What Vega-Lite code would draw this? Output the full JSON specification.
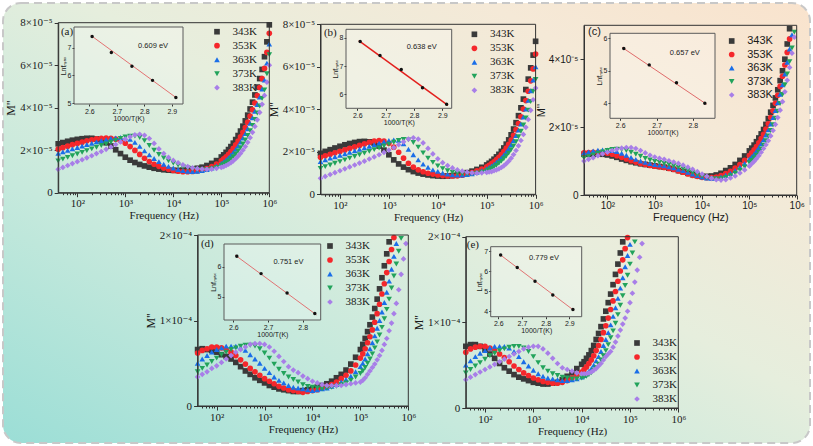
{
"$schema":"https://vega.github.io/schema/vega-lite/v6.json",
"width":807,"height":440,"padding":3,"autosize":{"type":"none"},"background":"#ffffff",
"config":{
"view":{"fill":{"gradient":"linear","x1":0,"y1":1,"x2":1,"y2":0,"stops":[{"offset":0,"color":"#9bded6"},{"offset":0.3,"color":"#c6e9dc"},{"offset":0.55,"color":"#e6eedd"},{"offset":0.8,"color":"#f5e9d7"},{"offset":1,"color":"#f9e3cd"}]},"stroke":"#c8c8c8","strokeWidth":2,"strokeDash":[8,5],"cornerRadius":18},
"axis":{"grid":false,"domainColor":"#333333","tickColor":"#333333","labelColor":"#1a1a1a","titleColor":"#1a1a1a","titleFontWeight":"normal","labelFontWeight":"normal","labelFlush":false,"labelOverlap":false,"labelBound":false,"labelFont":"Liberation Serif, DejaVu Serif, serif","titleFont":"Liberation Serif, DejaVu Serif, serif","labelFontSize":11,"titleFontSize":11,"tickSize":4,"labelPadding":1,"titlePadding":1},
"legend":{"labelFont":"Liberation Serif, DejaVu Serif, serif","labelFontSize":11,"symbolSize":32,"rowPadding":2,"labelOffset":10,"padding":0,"labelColor":"#1a1a1a","symbolStrokeWidth":0}
},
"datasets":{
"ma":[
{"f":40,"343K":2.30,"353K":2.05,"363K":1.85,"373K":1.50,"383K":1.10},
{"f":50,"343K":2.36,"353K":2.12,"363K":1.92,"373K":1.58,"383K":1.19},
{"f":63,"343K":2.42,"353K":2.19,"363K":1.99,"373K":1.66,"383K":1.28},
{"f":79,"343K":2.47,"353K":2.26,"363K":2.06,"373K":1.74,"383K":1.37},
{"f":100,"343K":2.51,"353K":2.32,"363K":2.13,"373K":1.82,"383K":1.46},
{"f":126,"343K":2.54,"353K":2.38,"363K":2.20,"373K":1.90,"383K":1.55},
{"f":158,"343K":2.56,"353K":2.44,"363K":2.27,"373K":1.98,"383K":1.64},
{"f":200,"343K":2.56,"353K":2.49,"363K":2.33,"373K":2.06,"383K":1.74},
{"f":251,"343K":2.53,"353K":2.53,"363K":2.39,"373K":2.14,"383K":1.84},
{"f":316,"343K":2.46,"353K":2.56,"363K":2.45,"373K":2.22,"383K":1.94},
{"f":398,"343K":2.35,"353K":2.57,"363K":2.50,"373K":2.30,"383K":2.04},
{"f":501,"343K":2.20,"353K":2.56,"363K":2.55,"373K":2.38,"383K":2.15},
{"f":631,"343K":2.02,"353K":2.52,"363K":2.58,"373K":2.46,"383K":2.27},
{"f":794,"343K":1.84,"353K":2.45,"363K":2.60,"373K":2.55,"383K":2.39},
{"f":1000,"343K":1.67,"353K":2.33,"363K":2.58,"373K":2.62,"383K":2.52},
{"f":1259,"343K":1.53,"353K":2.17,"363K":2.51,"373K":2.66,"383K":2.63},
{"f":1585,"343K":1.42,"353K":1.99,"363K":2.37,"373K":2.66,"383K":2.72},
{"f":1995,"343K":1.33,"353K":1.80,"363K":2.18,"373K":2.60,"383K":2.75},
{"f":2512,"343K":1.26,"353K":1.62,"363K":1.97,"373K":2.45,"383K":2.70},
{"f":3162,"343K":1.20,"353K":1.47,"363K":1.78,"373K":2.22,"383K":2.55},
{"f":3981,"343K":1.15,"353K":1.34,"363K":1.61,"373K":2.00,"383K":2.32},
{"f":5012,"343K":1.11,"353K":1.24,"363K":1.46,"373K":1.80,"383K":2.06},
{"f":6310,"343K":1.08,"353K":1.16,"363K":1.34,"373K":1.64,"383K":1.84},
{"f":7943,"343K":1.06,"353K":1.10,"363K":1.24,"373K":1.50,"383K":1.66},
{"f":10000,"343K":1.05,"353K":1.05,"363K":1.16,"373K":1.39,"383K":1.52},
{"f":12589,"343K":1.05,"353K":1.01,"363K":1.09,"373K":1.30,"383K":1.41},
{"f":15849,"343K":1.06,"353K":0.99,"363K":1.04,"373K":1.22,"383K":1.31},
{"f":19953,"343K":1.08,"353K":0.99,"363K":1.01,"373K":1.16,"383K":1.23},
{"f":25119,"343K":1.11,"353K":1.00,"363K":1.00,"373K":1.11,"383K":1.17},
{"f":31623,"343K":1.15,"353K":1.03,"363K":1.01,"373K":1.08,"383K":1.13},
{"f":39811,"343K":1.20,"353K":1.08,"363K":1.04,"373K":1.07,"383K":1.11},
{"f":50119,"343K":1.28,"353K":1.14,"363K":1.09,"373K":1.08,"383K":1.10},
{"f":63096,"343K":1.38,"353K":1.23,"363K":1.16,"373K":1.12,"383K":1.11},
{"f":79433,"343K":1.51,"353K":1.35,"363K":1.26,"373K":1.19,"383K":1.14},
{"f":100000,"343K":1.68,"353K":1.50,"363K":1.38,"373K":1.28,"383K":1.19},
{"f":112202,"343K":1.78,"353K":1.59,"363K":1.46,"373K":1.34,"383K":1.23},
{"f":125893,"343K":1.90,"353K":1.69,"363K":1.55,"373K":1.41,"383K":1.28},
{"f":141254,"343K":2.03,"353K":1.81,"363K":1.65,"373K":1.49,"383K":1.34},
{"f":158489,"343K":2.17,"353K":1.94,"363K":1.77,"373K":1.59,"383K":1.41},
{"f":177828,"343K":2.33,"353K":2.09,"363K":1.90,"373K":1.70,"383K":1.50},
{"f":199526,"343K":2.50,"353K":2.25,"363K":2.04,"373K":1.82,"383K":1.60},
{"f":223872,"343K":2.69,"353K":2.43,"363K":2.20,"373K":1.96,"383K":1.72},
{"f":251189,"343K":2.90,"353K":2.63,"363K":2.38,"373K":2.12,"383K":1.85},
{"f":281838,"343K":3.13,"353K":2.84,"363K":2.57,"373K":2.29,"383K":2.00},
{"f":316228,"343K":3.38,"353K":3.07,"363K":2.78,"373K":2.48,"383K":2.17},
{"f":354813,"343K":3.65,"353K":3.32,"363K":3.01,"373K":2.69,"383K":2.37},
{"f":398107,"343K":3.94,"353K":3.60,"363K":3.26,"373K":2.92,"383K":2.59},
{"f":446684,"343K":4.26,"353K":3.90,"363K":3.53,"373K":3.17,"383K":2.84},
{"f":501187,"343K":4.60,"353K":4.22,"363K":3.83,"373K":3.45,"383K":3.12},
{"f":562341,"343K":4.97,"353K":4.57,"363K":4.15,"373K":3.75,"383K":3.43},
{"f":630957,"343K":5.37,"353K":4.95,"363K":4.50,"373K":4.08,"383K":3.78},
{"f":707946,"343K":5.80,"353K":5.37,"363K":4.88,"373K":4.44,"383K":4.16},
{"f":794328,"343K":6.40,"353K":5.85,"363K":5.30,"373K":4.84,"383K":4.58},
{"f":891251,"343K":7.10,"353K":6.60,"363K":6.10,"373K":5.60,"383K":5.20},
{"f":1000000,"343K":7.90,"353K":7.50,"363K":7.00,"373K":6.50,"383K":6.00}
],
"mb":[
{"f":40,"343K":1.93,"353K":1.74,"363K":1.54,"373K":1.22,"383K":0.75},
{"f":50,"343K":2.02,"353K":1.81,"363K":1.62,"373K":1.30,"383K":0.84},
{"f":63,"343K":2.10,"353K":1.88,"363K":1.70,"373K":1.38,"383K":0.93},
{"f":79,"343K":2.18,"353K":1.95,"363K":1.77,"373K":1.46,"383K":1.02},
{"f":100,"343K":2.26,"353K":2.02,"363K":1.84,"373K":1.54,"383K":1.11},
{"f":126,"343K":2.33,"353K":2.09,"363K":1.91,"373K":1.62,"383K":1.20},
{"f":158,"343K":2.39,"353K":2.16,"363K":1.98,"373K":1.70,"383K":1.29},
{"f":200,"343K":2.44,"353K":2.23,"363K":2.05,"373K":1.78,"383K":1.38},
{"f":251,"343K":2.48,"353K":2.30,"363K":2.12,"373K":1.86,"383K":1.47},
{"f":316,"343K":2.49,"353K":2.37,"363K":2.19,"373K":1.94,"383K":1.56},
{"f":398,"343K":2.47,"353K":2.44,"363K":2.26,"373K":2.02,"383K":1.66},
{"f":501,"343K":2.40,"353K":2.50,"363K":2.33,"373K":2.10,"383K":1.76},
{"f":631,"343K":2.27,"353K":2.53,"363K":2.40,"373K":2.18,"383K":1.86},
{"f":794,"343K":2.08,"353K":2.50,"363K":2.47,"373K":2.27,"383K":1.97},
{"f":1000,"343K":1.86,"353K":2.40,"363K":2.53,"373K":2.36,"383K":2.08},
{"f":1259,"343K":1.62,"353K":2.22,"363K":2.56,"373K":2.45,"383K":2.20},
{"f":1585,"343K":1.43,"353K":1.98,"363K":2.54,"373K":2.53,"383K":2.33},
{"f":1995,"343K":1.28,"353K":1.70,"363K":2.38,"373K":2.58,"383K":2.47},
{"f":2512,"343K":1.16,"353K":1.46,"363K":2.12,"373K":2.56,"383K":2.60},
{"f":3162,"343K":1.07,"353K":1.28,"363K":1.86,"373K":2.44,"383K":2.66},
{"f":3981,"343K":1.00,"353K":1.15,"363K":1.62,"373K":2.22,"383K":2.60},
{"f":5012,"343K":0.95,"353K":1.06,"363K":1.42,"373K":1.95,"383K":2.42},
{"f":6310,"343K":0.91,"353K":0.99,"363K":1.27,"373K":1.70,"383K":2.16},
{"f":7943,"343K":0.88,"353K":0.95,"363K":1.15,"373K":1.50,"383K":1.90},
{"f":10000,"343K":0.86,"353K":0.91,"363K":1.08,"373K":1.34,"383K":1.67},
{"f":12589,"343K":0.85,"353K":0.88,"363K":1.00,"373K":1.21,"383K":1.49},
{"f":15849,"343K":0.86,"353K":0.86,"363K":0.95,"373K":1.11,"383K":1.35},
{"f":19953,"343K":0.88,"353K":0.86,"363K":0.92,"373K":1.04,"383K":1.24},
{"f":25119,"343K":0.91,"353K":0.87,"363K":0.90,"373K":0.99,"383K":1.15},
{"f":31623,"343K":0.96,"353K":0.90,"363K":0.91,"373K":0.96,"383K":1.09},
{"f":39811,"343K":1.02,"353K":0.95,"363K":0.93,"373K":0.95,"383K":1.04},
{"f":50119,"343K":1.09,"353K":1.02,"363K":0.97,"373K":0.96,"383K":1.01},
{"f":63096,"343K":1.17,"353K":1.10,"363K":1.03,"373K":0.99,"383K":1.00},
{"f":79433,"343K":1.27,"353K":1.19,"363K":1.11,"373K":1.04,"383K":1.01},
{"f":100000,"343K":1.38,"353K":1.29,"363K":1.20,"373K":1.10,"383K":1.03},
{"f":112202,"343K":1.46,"353K":1.36,"363K":1.27,"373K":1.16,"383K":1.05},
{"f":125893,"343K":1.55,"353K":1.44,"363K":1.34,"373K":1.22,"383K":1.07},
{"f":141254,"343K":1.65,"353K":1.53,"363K":1.42,"373K":1.29,"383K":1.11},
{"f":158489,"343K":1.76,"353K":1.63,"363K":1.51,"373K":1.37,"383K":1.15},
{"f":177828,"343K":1.88,"353K":1.74,"363K":1.61,"373K":1.46,"383K":1.20},
{"f":199526,"343K":2.02,"353K":1.87,"363K":1.72,"373K":1.56,"383K":1.26},
{"f":223872,"343K":2.18,"353K":2.01,"363K":1.85,"373K":1.67,"383K":1.34},
{"f":251189,"343K":2.36,"353K":2.17,"363K":1.99,"373K":1.80,"383K":1.44},
{"f":281838,"343K":2.56,"353K":2.35,"363K":2.15,"373K":1.94,"383K":1.56},
{"f":316228,"343K":2.80,"353K":2.55,"363K":2.33,"373K":2.10,"383K":1.70},
{"f":354813,"343K":3.07,"353K":2.78,"363K":2.53,"373K":2.28,"383K":1.87},
{"f":398107,"343K":3.37,"353K":3.04,"363K":2.76,"373K":2.48,"383K":2.06},
{"f":446684,"343K":3.70,"353K":3.33,"363K":3.02,"373K":2.71,"383K":2.28},
{"f":501187,"343K":4.07,"353K":3.65,"363K":3.31,"373K":2.97,"383K":2.53},
{"f":562341,"343K":4.48,"353K":4.01,"363K":3.64,"373K":3.26,"383K":2.82},
{"f":630957,"343K":4.93,"353K":4.41,"363K":4.01,"373K":3.59,"383K":3.15},
{"f":707946,"343K":5.42,"353K":4.85,"363K":4.42,"373K":3.96,"383K":3.52},
{"f":794328,"343K":5.95,"353K":5.34,"363K":4.87,"373K":4.37,"383K":3.95},
{"f":891251,"343K":6.55,"353K":5.90,"363K":5.38,"373K":4.85,"383K":4.45},
{"f":1000000,"343K":7.20,"353K":6.60,"363K":6.00,"373K":5.40,"383K":5.00}
],
"mc":[
{"f":32,"343K":1.20,"353K":1.24,"363K":1.25,"373K":1.09,"383K":1.00},
{"f":40,"343K":1.20,"353K":1.25,"363K":1.27,"373K":1.13,"383K":1.05},
{"f":50,"343K":1.21,"353K":1.26,"363K":1.30,"373K":1.18,"383K":1.10},
{"f":63,"343K":1.21,"353K":1.26,"363K":1.32,"373K":1.23,"383K":1.16},
{"f":79,"343K":1.20,"353K":1.25,"363K":1.33,"373K":1.27,"383K":1.21},
{"f":100,"343K":1.18,"353K":1.23,"363K":1.33,"373K":1.31,"383K":1.26},
{"f":126,"343K":1.15,"353K":1.20,"363K":1.31,"373K":1.34,"383K":1.31},
{"f":158,"343K":1.11,"353K":1.16,"363K":1.28,"373K":1.35,"383K":1.35},
{"f":200,"343K":1.06,"353K":1.11,"363K":1.23,"373K":1.34,"383K":1.38},
{"f":251,"343K":1.02,"353K":1.06,"363K":1.17,"373K":1.31,"383K":1.40},
{"f":316,"343K":0.98,"353K":1.01,"363K":1.11,"373K":1.26,"383K":1.40},
{"f":398,"343K":0.95,"353K":0.97,"363K":1.05,"373K":1.20,"383K":1.37},
{"f":501,"343K":0.92,"353K":0.93,"363K":1.00,"373K":1.14,"383K":1.31},
{"f":631,"343K":0.90,"353K":0.90,"363K":0.96,"373K":1.08,"383K":1.24},
{"f":794,"343K":0.88,"353K":0.87,"363K":0.93,"373K":1.03,"383K":1.17},
{"f":1000,"343K":0.86,"353K":0.85,"363K":0.90,"373K":0.99,"383K":1.12},
{"f":1259,"343K":0.84,"353K":0.83,"363K":0.88,"373K":0.96,"383K":1.08},
{"f":1585,"343K":0.82,"353K":0.81,"363K":0.86,"373K":0.93,"383K":1.05},
{"f":1995,"343K":0.79,"353K":0.78,"363K":0.83,"373K":0.90,"383K":1.01},
{"f":2512,"343K":0.76,"353K":0.75,"363K":0.80,"373K":0.86,"383K":0.97},
{"f":3162,"343K":0.72,"353K":0.71,"363K":0.76,"373K":0.82,"383K":0.93},
{"f":3981,"343K":0.68,"353K":0.67,"363K":0.72,"373K":0.77,"383K":0.88},
{"f":5012,"343K":0.64,"353K":0.62,"363K":0.67,"373K":0.72,"383K":0.82},
{"f":6310,"343K":0.60,"353K":0.58,"363K":0.62,"373K":0.66,"383K":0.76},
{"f":7943,"343K":0.57,"353K":0.55,"363K":0.57,"373K":0.60,"383K":0.69},
{"f":10000,"343K":0.55,"353K":0.52,"363K":0.53,"373K":0.55,"383K":0.62},
{"f":12589,"343K":0.55,"353K":0.51,"363K":0.50,"373K":0.51,"383K":0.55},
{"f":15849,"343K":0.56,"353K":0.51,"363K":0.49,"373K":0.48,"383K":0.49},
{"f":19953,"343K":0.59,"353K":0.53,"363K":0.50,"373K":0.47,"383K":0.45},
{"f":25119,"343K":0.64,"353K":0.57,"363K":0.53,"373K":0.48,"383K":0.44},
{"f":31623,"343K":0.72,"353K":0.63,"363K":0.58,"373K":0.52,"383K":0.45},
{"f":39811,"343K":0.80,"353K":0.70,"363K":0.64,"373K":0.57,"383K":0.50},
{"f":50119,"343K":0.90,"353K":0.79,"363K":0.72,"373K":0.64,"383K":0.56},
{"f":63096,"343K":1.02,"353K":0.90,"363K":0.82,"373K":0.73,"383K":0.65},
{"f":79433,"343K":1.15,"353K":1.02,"363K":0.93,"373K":0.83,"383K":0.74},
{"f":100000,"343K":1.30,"353K":1.16,"363K":1.06,"373K":0.95,"383K":0.85},
{"f":112202,"343K":1.38,"353K":1.24,"363K":1.13,"373K":1.02,"383K":0.92},
{"f":125893,"343K":1.47,"353K":1.33,"363K":1.21,"373K":1.09,"383K":0.99},
{"f":141254,"343K":1.57,"353K":1.43,"363K":1.30,"373K":1.17,"383K":1.07},
{"f":158489,"343K":1.68,"353K":1.54,"363K":1.40,"373K":1.26,"383K":1.16},
{"f":177828,"343K":1.80,"353K":1.66,"363K":1.51,"373K":1.36,"383K":1.26},
{"f":199526,"343K":1.93,"353K":1.79,"363K":1.63,"373K":1.47,"383K":1.37},
{"f":223872,"343K":2.08,"353K":1.94,"363K":1.77,"373K":1.60,"383K":1.48},
{"f":251189,"343K":2.25,"353K":2.10,"363K":1.92,"373K":1.74,"383K":1.60},
{"f":281838,"343K":2.44,"353K":2.28,"363K":2.09,"373K":1.90,"383K":1.74},
{"f":316228,"343K":2.64,"353K":2.48,"363K":2.28,"373K":2.07,"383K":1.90},
{"f":354813,"343K":2.86,"353K":2.70,"363K":2.49,"373K":2.26,"383K":2.08},
{"f":398107,"343K":3.10,"353K":2.94,"363K":2.72,"373K":2.47,"383K":2.28},
{"f":446684,"343K":3.37,"353K":3.20,"363K":2.97,"373K":2.70,"383K":2.50},
{"f":501187,"343K":3.66,"353K":3.50,"363K":3.25,"373K":2.96,"383K":2.75},
{"f":562341,"343K":4.00,"353K":3.83,"363K":3.56,"373K":3.25,"383K":3.04},
{"f":630957,"343K":4.45,"353K":4.20,"363K":3.91,"373K":3.57,"383K":3.38},
{"f":707946,"343K":4.90,"353K":4.60,"363K":4.30,"373K":3.93,"383K":3.76},
{"f":794328,"363K":4.72,"373K":4.33,"383K":4.18},
{"f":891251,"373K":4.80,"383K":4.65}
],
"md":[
{"f":40,"343K":0.66,"353K":0.62,"363K":0.50,"373K":0.40,"383K":0.34},
{"f":50,"343K":0.67,"353K":0.65,"363K":0.55,"373K":0.44,"383K":0.37},
{"f":63,"343K":0.66,"353K":0.67,"363K":0.59,"373K":0.48,"383K":0.40},
{"f":79,"343K":0.65,"353K":0.69,"363K":0.63,"373K":0.52,"383K":0.44},
{"f":100,"343K":0.63,"353K":0.69,"363K":0.66,"373K":0.56,"383K":0.47},
{"f":126,"343K":0.60,"353K":0.68,"363K":0.68,"373K":0.60,"383K":0.51},
{"f":158,"343K":0.58,"353K":0.66,"363K":0.70,"373K":0.63,"383K":0.55},
{"f":200,"343K":0.55,"353K":0.63,"363K":0.70,"373K":0.66,"383K":0.59},
{"f":251,"343K":0.51,"353K":0.59,"363K":0.70,"373K":0.68,"383K":0.63},
{"f":316,"343K":0.46,"353K":0.54,"363K":0.68,"373K":0.70,"383K":0.66},
{"f":398,"343K":0.41,"353K":0.49,"363K":0.65,"373K":0.71,"383K":0.69},
{"f":501,"343K":0.37,"353K":0.44,"363K":0.60,"373K":0.71,"383K":0.72},
{"f":631,"343K":0.33,"353K":0.40,"363K":0.55,"373K":0.70,"383K":0.73},
{"f":794,"343K":0.30,"353K":0.36,"363K":0.50,"373K":0.67,"383K":0.73},
{"f":1000,"343K":0.27,"353K":0.32,"363K":0.44,"373K":0.62,"383K":0.72},
{"f":1259,"343K":0.24,"353K":0.29,"363K":0.39,"373K":0.56,"383K":0.69},
{"f":1585,"343K":0.22,"353K":0.26,"363K":0.34,"373K":0.49,"383K":0.64},
{"f":1995,"343K":0.20,"353K":0.23,"363K":0.30,"373K":0.43,"383K":0.58},
{"f":2512,"343K":0.19,"353K":0.21,"363K":0.27,"373K":0.38,"383K":0.52},
{"f":3162,"343K":0.18,"353K":0.19,"363K":0.24,"373K":0.34,"383K":0.46},
{"f":3981,"343K":0.17,"353K":0.18,"363K":0.22,"373K":0.31,"383K":0.42},
{"f":5012,"343K":0.17,"353K":0.17,"363K":0.21,"373K":0.28,"383K":0.39},
{"f":6310,"343K":0.18,"353K":0.16,"363K":0.20,"373K":0.25,"383K":0.35},
{"f":7943,"343K":0.19,"353K":0.17,"363K":0.19,"373K":0.23,"383K":0.32},
{"f":10000,"343K":0.20,"353K":0.18,"363K":0.18,"373K":0.22,"383K":0.29},
{"f":12589,"343K":0.22,"353K":0.19,"363K":0.19,"373K":0.21,"383K":0.27},
{"f":15849,"343K":0.24,"353K":0.21,"363K":0.20,"373K":0.20,"383K":0.25},
{"f":19953,"343K":0.26,"353K":0.23,"363K":0.21,"373K":0.21,"383K":0.24},
{"f":25119,"343K":0.29,"353K":0.25,"363K":0.23,"373K":0.22,"383K":0.24},
{"f":31623,"343K":0.33,"353K":0.28,"363K":0.25,"373K":0.23,"383K":0.24},
{"f":39811,"343K":0.37,"353K":0.32,"363K":0.28,"373K":0.25,"383K":0.24},
{"f":50119,"343K":0.42,"353K":0.36,"363K":0.31,"373K":0.27,"383K":0.25},
{"f":63096,"343K":0.49,"353K":0.41,"363K":0.35,"373K":0.30,"383K":0.26},
{"f":79433,"343K":0.57,"353K":0.48,"363K":0.40,"373K":0.34,"383K":0.27},
{"f":100000,"343K":0.66,"353K":0.56,"363K":0.46,"373K":0.38,"383K":0.28},
{"f":112202,"343K":0.72,"353K":0.61,"363K":0.50,"373K":0.41,"383K":0.30},
{"f":125893,"343K":0.79,"353K":0.67,"363K":0.55,"373K":0.45,"383K":0.33},
{"f":141254,"343K":0.87,"353K":0.74,"363K":0.61,"373K":0.50,"383K":0.37},
{"f":158489,"343K":0.95,"353K":0.81,"363K":0.67,"373K":0.55,"383K":0.41},
{"f":177828,"343K":1.04,"353K":0.89,"363K":0.74,"373K":0.61,"383K":0.45},
{"f":199526,"343K":1.14,"353K":0.98,"363K":0.82,"373K":0.68,"383K":0.49},
{"f":223872,"343K":1.25,"353K":1.08,"363K":0.91,"373K":0.75,"383K":0.54},
{"f":251189,"343K":1.37,"353K":1.19,"363K":1.00,"373K":0.83,"383K":0.59},
{"f":281838,"343K":1.50,"353K":1.31,"363K":1.10,"373K":0.92,"383K":0.65},
{"f":316228,"343K":1.64,"353K":1.43,"363K":1.21,"373K":1.02,"383K":0.72},
{"f":354813,"343K":1.78,"353K":1.56,"363K":1.33,"373K":1.13,"383K":0.79},
{"f":398107,"343K":1.92,"353K":1.69,"363K":1.46,"373K":1.25,"383K":0.88},
{"f":446684,"353K":1.83,"363K":1.60,"373K":1.38,"383K":0.97},
{"f":501187,"353K":1.97,"363K":1.75,"373K":1.52,"383K":1.08},
{"f":562341,"363K":1.90,"373K":1.66,"383K":1.20},
{"f":630957,"373K":1.81,"383K":1.36},
{"f":707946,"373K":1.96,"383K":1.54},
{"f":794328,"383K":1.72},
{"f":891251,"383K":1.90}
],
"me":[
{"f":40,"343K":0.72,"353K":0.65,"363K":0.50,"373K":0.41,"383K":0.33},
{"f":50,"343K":0.74,"353K":0.69,"363K":0.55,"373K":0.45,"383K":0.36},
{"f":63,"343K":0.74,"353K":0.71,"363K":0.60,"373K":0.49,"383K":0.39},
{"f":79,"343K":0.72,"353K":0.72,"363K":0.64,"373K":0.53,"383K":0.42},
{"f":100,"343K":0.68,"353K":0.72,"363K":0.67,"373K":0.57,"383K":0.45},
{"f":126,"343K":0.63,"353K":0.70,"363K":0.70,"373K":0.61,"383K":0.48},
{"f":158,"343K":0.58,"353K":0.67,"363K":0.72,"373K":0.64,"383K":0.51},
{"f":200,"343K":0.52,"353K":0.63,"363K":0.72,"373K":0.67,"383K":0.54},
{"f":251,"343K":0.47,"353K":0.59,"363K":0.72,"373K":0.69,"383K":0.57},
{"f":316,"343K":0.43,"353K":0.54,"363K":0.70,"373K":0.71,"383K":0.60},
{"f":398,"343K":0.39,"353K":0.49,"363K":0.66,"373K":0.72,"383K":0.63},
{"f":501,"343K":0.36,"353K":0.45,"363K":0.60,"373K":0.72,"383K":0.66},
{"f":631,"343K":0.34,"353K":0.41,"363K":0.54,"373K":0.70,"383K":0.69},
{"f":794,"343K":0.32,"353K":0.38,"363K":0.49,"373K":0.66,"383K":0.71},
{"f":1000,"343K":0.30,"353K":0.35,"363K":0.44,"373K":0.60,"383K":0.72},
{"f":1259,"343K":0.29,"353K":0.33,"363K":0.40,"373K":0.53,"383K":0.72},
{"f":1585,"343K":0.28,"353K":0.31,"363K":0.37,"373K":0.47,"383K":0.69},
{"f":1995,"343K":0.28,"353K":0.30,"363K":0.35,"373K":0.43,"383K":0.64},
{"f":2512,"343K":0.29,"353K":0.29,"363K":0.34,"373K":0.40,"383K":0.58},
{"f":3162,"343K":0.30,"353K":0.29,"363K":0.33,"373K":0.38,"383K":0.52},
{"f":3981,"343K":0.33,"353K":0.30,"363K":0.32,"373K":0.36,"383K":0.47},
{"f":5012,"343K":0.37,"353K":0.32,"363K":0.32,"373K":0.35,"383K":0.45},
{"f":6310,"343K":0.41,"353K":0.35,"363K":0.33,"373K":0.34,"383K":0.43},
{"f":7943,"343K":0.46,"353K":0.38,"363K":0.34,"373K":0.34,"383K":0.41},
{"f":10000,"343K":0.51,"353K":0.42,"363K":0.36,"373K":0.35,"383K":0.40},
{"f":11220,"343K":0.54,"353K":0.45,"363K":0.38,"373K":0.36,"383K":0.40},
{"f":12589,"343K":0.58,"353K":0.48,"363K":0.40,"373K":0.37,"383K":0.40},
{"f":14125,"343K":0.62,"353K":0.52,"363K":0.43,"373K":0.39,"383K":0.41},
{"f":15849,"343K":0.67,"353K":0.56,"363K":0.46,"373K":0.41,"383K":0.42},
{"f":17783,"343K":0.73,"353K":0.61,"363K":0.50,"373K":0.44,"383K":0.44},
{"f":19953,"343K":0.80,"353K":0.67,"363K":0.55,"373K":0.47,"383K":0.46},
{"f":22387,"343K":0.87,"353K":0.73,"363K":0.60,"373K":0.51,"383K":0.49},
{"f":25119,"343K":0.95,"353K":0.80,"363K":0.66,"373K":0.56,"383K":0.52},
{"f":28184,"343K":1.04,"353K":0.88,"363K":0.73,"373K":0.61,"383K":0.56},
{"f":31623,"343K":1.13,"353K":0.96,"363K":0.80,"373K":0.67,"383K":0.60},
{"f":35481,"343K":1.23,"353K":1.05,"363K":0.88,"373K":0.74,"383K":0.63},
{"f":39811,"343K":1.33,"353K":1.15,"363K":0.97,"373K":0.82,"383K":0.66},
{"f":44668,"343K":1.44,"353K":1.25,"363K":1.07,"373K":0.90,"383K":0.71},
{"f":50119,"343K":1.56,"353K":1.36,"363K":1.17,"373K":0.99,"383K":0.77},
{"f":56234,"343K":1.68,"353K":1.48,"363K":1.28,"373K":1.09,"383K":0.84},
{"f":63096,"343K":1.81,"353K":1.60,"363K":1.40,"373K":1.20,"383K":0.91},
{"f":70795,"343K":1.94,"353K":1.73,"363K":1.52,"373K":1.31,"383K":0.98},
{"f":79433,"353K":1.86,"363K":1.65,"373K":1.43,"383K":1.05},
{"f":89125,"353K":1.99,"363K":1.78,"373K":1.55,"383K":1.13},
{"f":100000,"363K":1.91,"373K":1.68,"383K":1.23},
{"f":112202,"373K":1.81,"383K":1.34},
{"f":125893,"373K":1.94,"383K":1.47},
{"f":141254,"383K":1.61},
{"f":158489,"383K":1.76},
{"f":177828,"383K":1.92}
],
"ia":[{"x":2.61,"y":7.4},{"x":2.68,"y":6.82},{"x":2.755,"y":6.33},{"x":2.83,"y":5.82},{"x":2.915,"y":5.2}],
"la":[{"x":2.605,"y":7.44},{"x":2.92,"y":5.17}],
"ib":[{"x":2.61,"y":7.87},{"x":2.68,"y":7.37},{"x":2.755,"y":6.88},{"x":2.83,"y":6.23},{"x":2.915,"y":5.65}],
"lb":[{"x":2.605,"y":7.9},{"x":2.92,"y":5.61}],
"ic":[{"x":2.61,"y":5.68},{"x":2.68,"y":5.18},{"x":2.755,"y":4.63},{"x":2.833,"y":4.0}],
"lc":[{"x":2.605,"y":5.72},{"x":2.838,"y":3.97}],
"id":[{"x":2.61,"y":6.35},{"x":2.68,"y":5.77},{"x":2.755,"y":5.12},{"x":2.835,"y":4.44}],
"ld":[{"x":2.605,"y":6.39},{"x":2.84,"y":4.39}],
"ie":[{"x":2.61,"y":6.8},{"x":2.68,"y":6.17},{"x":2.755,"y":5.49},{"x":2.83,"y":4.8},{"x":2.915,"y":4.07}],
"le":[{"x":2.605,"y":6.84},{"x":2.92,"y":4.02}]
},
"layer":[
{"data":{"name":"ma"},"transform":[{"fold":["343K","353K","363K","373K","383K"],"as":["T","M"]}],"mark":{"type":"point","filled":true,"size":32,"opacity":1},
"encoding":{
"x":{"field":"f","type":"quantitative","scale":{"type":"log","domain":[40,1000000],"range":[55.2,266.3],"nice":false},"axis":{"orient":"bottom","offset":-250.3,"values":[100,1000,10000,100000,1000000],"labelExpr":"'10' + ['⁰','¹','²','³','⁴','⁵','⁶'][round(log(datum.value)/LN10)]","title":"Frequency (Hz)"}},
"y":{"field":"M","type":"quantitative","scale":{"domain":[0,8],"range":[189.7,19.7],"nice":false,"zero":false},"axis":{"orient":"left","offset":-55.2,"values":[0,2,4,6,8],"labelExpr":"datum.value == 0 ? '0' : datum.value + '×10⁻⁵'","title":"M''","titleFontSize":12,"labelPadding":2,"titlePadding":2}},
"color":{"field":"T","type":"nominal","scale":{"domain":["343K","353K","363K","373K","383K"],"range":["#3a3a3a","#f5272b","#1a6ee8","#22a35b","#a87ee8"]},"legend":{"title":null,"orient":"none","legendX":208.5,"legendY":23.2}},
"shape":{"field":"T","type":"nominal","scale":{"domain":["343K","353K","363K","373K","383K"],"range":["square","circle","triangle-up","triangle-down","diamond"]},"legend":{"title":null,"orient":"none","legendX":208.5,"legendY":23.2}},
"order":{"field":"T","type":"ordinal"}}},
{"data":{"values":[{}]},"mark":{"type":"rect","filled":false,"stroke":"#333333","strokeWidth":1},
"encoding":{"x":{"datum":40,"type":"quantitative","scale":{"type":"log","domain":[40,1000000],"range":[55.2,266.3],"nice":false},"axis":{"orient":"bottom","offset":-250.3,"values":[50,60,70,80,90,200,300,400,500,600,700,800,900,2000,3000,4000,5000,6000,7000,8000,9000,20000,30000,40000,50000,60000,70000,80000,90000,200000,300000,400000,500000,600000,700000,800000,900000],"labels":false,"domain":false,"tickSize":2,"title":null}},"x2":{"datum":1000000},
"y":{"datum":0,"type":"quantitative","scale":{"domain":[0,8],"range":[189.7,19.7],"nice":false,"zero":false},"axis":null},"y2":{"datum":8}}},
{"data":{"values":[{}]},"mark":{"type":"text","text":"(a)","font":"Liberation Serif, DejaVu Serif, serif","fontSize":11,"align":"left","baseline":"middle","color":"#1a1a1a"},
"encoding":{"x":{"datum":45.5,"type":"quantitative","scale":{"type":"log","domain":[40,1000000],"range":[55.2,266.3],"nice":false},"axis":null},"y":{"datum":7.56,"type":"quantitative","scale":{"domain":[0,8],"range":[189.7,19.7],"nice":false,"zero":false},"axis":null}}},
{"data":{"values":[{}]},"mark":{"type":"rect","fill":"#ffffff","fillOpacity":0.25,"stroke":"#5a5a5a","strokeWidth":1},
"encoding":{"x":{"datum":2.544,"type":"quantitative","scale":{"domain":[2.544,2.941],"range":[71,180],"nice":false,"zero":false},"axis":null},"x2":{"datum":2.941},"y":{"datum":4.97,"type":"quantitative","scale":{"domain":[4.97,7.74],"range":[101,24],"nice":false,"zero":false},"axis":null},"y2":{"datum":7.74}}},
{"data":{"name":"la"},"mark":{"type":"line","color":"#e47272","strokeWidth":1},
"encoding":{"x":{"field":"x","type":"quantitative","scale":{"domain":[2.544,2.941],"range":[71,180],"nice":false,"zero":false},"axis":null},"y":{"field":"y","type":"quantitative","scale":{"domain":[4.97,7.74],"range":[101,24],"nice":false,"zero":false},"axis":null}}},
{"data":{"name":"ia"},"mark":{"type":"point","filled":true,"size":12,"color":"#111111","opacity":1},
"encoding":{"x":{"field":"x","type":"quantitative","scale":{"domain":[2.544,2.941],"range":[71,180],"nice":false,"zero":false},"axis":{"orient":"bottom","offset":-339,"values":[2.6,2.7,2.8,2.9],"format":".1f","title":"1000/T(K)","labelFont":"Liberation Sans, Arial, sans-serif","titleFont":"Liberation Sans, Arial, sans-serif","labelFontSize":7,"titleFontSize":7,"tickSize":2,"labelPadding":1,"titlePadding":0,"domain":false}},
"y":{"field":"y","type":"quantitative","scale":{"domain":[4.97,7.74],"range":[101,24],"nice":false,"zero":false},"axis":{"orient":"left","offset":-71,"values":[5,6,7],"format":"d","title":"Lnfₘₐₓ","labelFont":"Liberation Sans, Arial, sans-serif","titleFont":"Liberation Sans, Arial, sans-serif","labelFontSize":7,"titleFontSize":7,"tickSize":2,"labelPadding":1,"titlePadding":1,"domain":false}}}},
{"data":{"values":[{}]},"mark":{"type":"text","text":"0.609 eV","font":"Liberation Sans, Arial, sans-serif","fontSize":7.5,"color":"#222222"},
"encoding":{"x":{"datum":2.832,"type":"quantitative","scale":{"domain":[2.544,2.941],"range":[71,180],"nice":false,"zero":false},"axis":null},"y":{"datum":7.06,"type":"quantitative","scale":{"domain":[4.97,7.74],"range":[101,24],"nice":false,"zero":false},"axis":null}}},

{"data":{"name":"mb"},"transform":[{"fold":["343K","353K","363K","373K","383K"],"as":["T","M"]}],"mark":{"type":"point","filled":true,"size":32,"opacity":1},
"encoding":{
"x":{"field":"f","type":"quantitative","scale":{"type":"log","domain":[40,1000000],"range":[317.5,532.6],"nice":false},"axis":{"orient":"bottom","offset":-248.7,"values":[100,1000,10000,100000,1000000],"labelExpr":"'10' + ['⁰','¹','²','³','⁴','⁵','⁶'][round(log(datum.value)/LN10)]","title":"Frequency (Hz)"}},
"y":{"field":"M","type":"quantitative","scale":{"domain":[0,8],"range":[191.3,21.3],"nice":false,"zero":false},"axis":{"orient":"left","offset":-317.5,"values":[0,2,4,6,8],"labelExpr":"datum.value == 0 ? '0' : datum.value + '×10⁻⁵'","title":"M''","titleFontSize":12,"labelPadding":2,"titlePadding":2}},
"color":{"field":"T","type":"nominal","scale":{"domain":["343K","353K","363K","373K","383K"],"range":["#3a3a3a","#f5272b","#1a6ee8","#22a35b","#a87ee8"]},"legend":{"title":null,"orient":"none","legendX":465.9,"legendY":25.8}},
"shape":{"field":"T","type":"nominal","scale":{"domain":["343K","353K","363K","373K","383K"],"range":["square","circle","triangle-up","triangle-down","diamond"]},"legend":{"title":null,"orient":"none","legendX":465.9,"legendY":25.8}},
"order":{"field":"T","type":"ordinal"}}},
{"data":{"values":[{}]},"mark":{"type":"rect","filled":false,"stroke":"#333333","strokeWidth":1},
"encoding":{"x":{"datum":40,"type":"quantitative","scale":{"type":"log","domain":[40,1000000],"range":[317.5,532.6],"nice":false},"axis":{"orient":"bottom","offset":-248.7,"values":[50,60,70,80,90,200,300,400,500,600,700,800,900,2000,3000,4000,5000,6000,7000,8000,9000,20000,30000,40000,50000,60000,70000,80000,90000,200000,300000,400000,500000,600000,700000,800000,900000],"labels":false,"domain":false,"tickSize":2,"title":null}},"x2":{"datum":1000000},
"y":{"datum":0,"type":"quantitative","scale":{"domain":[0,8],"range":[191.3,21.3],"nice":false,"zero":false},"axis":null},"y2":{"datum":8}}},
{"data":{"values":[{}]},"mark":{"type":"text","text":"(b)","font":"Liberation Serif, DejaVu Serif, serif","fontSize":11,"align":"left","baseline":"middle","color":"#1a1a1a"},
"encoding":{"x":{"datum":47,"type":"quantitative","scale":{"type":"log","domain":[40,1000000],"range":[317.5,532.6],"nice":false},"axis":null},"y":{"datum":7.59,"type":"quantitative","scale":{"domain":[0,8],"range":[191.3,21.3],"nice":false,"zero":false},"axis":null}}},
{"data":{"values":[{}]},"mark":{"type":"rect","fill":"#ffffff","fillOpacity":0.25,"stroke":"#5a5a5a","strokeWidth":1},
"encoding":{"x":{"datum":2.56,"type":"quantitative","scale":{"domain":[2.56,2.933],"range":[343,448.7],"nice":false,"zero":false},"axis":null},"x2":{"datum":2.933},"y":{"datum":5.505,"type":"quantitative","scale":{"domain":[5.505,8.3],"range":[105.3,26.3],"nice":false,"zero":false},"axis":null},"y2":{"datum":8.3}}},
{"data":{"name":"lb"},"mark":{"type":"line","color":"#e3201d","strokeWidth":1.5},
"encoding":{"x":{"field":"x","type":"quantitative","scale":{"domain":[2.56,2.933],"range":[343,448.7],"nice":false,"zero":false},"axis":null},"y":{"field":"y","type":"quantitative","scale":{"domain":[5.505,8.3],"range":[105.3,26.3],"nice":false,"zero":false},"axis":null}}},
{"data":{"name":"ib"},"mark":{"type":"point","filled":true,"size":12,"color":"#111111","opacity":1},
"encoding":{"x":{"field":"x","type":"quantitative","scale":{"domain":[2.56,2.933],"range":[343,448.7],"nice":false,"zero":false},"axis":{"orient":"bottom","offset":-334.7,"values":[2.6,2.7,2.8,2.9],"format":".1f","title":"1000/T(K)","labelFont":"Liberation Sans, Arial, sans-serif","titleFont":"Liberation Sans, Arial, sans-serif","labelFontSize":7,"titleFontSize":7,"tickSize":2,"labelPadding":1,"titlePadding":0,"domain":false}},
"y":{"field":"y","type":"quantitative","scale":{"domain":[5.505,8.3],"range":[105.3,26.3],"nice":false,"zero":false},"axis":{"orient":"left","offset":-343,"values":[6,7,8],"format":"d","title":"Lnfₘₐₓ","labelFont":"Liberation Sans, Arial, sans-serif","titleFont":"Liberation Sans, Arial, sans-serif","labelFontSize":7,"titleFontSize":7,"tickSize":2,"labelPadding":1,"titlePadding":1,"domain":false}}}},
{"data":{"values":[{}]},"mark":{"type":"text","text":"0.638 eV","font":"Liberation Sans, Arial, sans-serif","fontSize":7.5,"color":"#222222"},
"encoding":{"x":{"datum":2.827,"type":"quantitative","scale":{"domain":[2.56,2.933],"range":[343,448.7],"nice":false,"zero":false},"axis":null},"y":{"datum":7.67,"type":"quantitative","scale":{"domain":[5.505,8.3],"range":[105.3,26.3],"nice":false,"zero":false},"axis":null}}},

{"data":{"name":"mc"},"transform":[{"fold":["343K","353K","363K","373K","383K"],"as":["T","M"]}],"mark":{"type":"point","filled":true,"size":32,"opacity":1},
"encoding":{
"x":{"field":"f","type":"quantitative","scale":{"type":"log","domain":[32,1000000],"range":[581,793.7],"nice":false},"axis":{"orient":"bottom","offset":-248,"values":[100,1000,10000,100000,1000000],"labelExpr":"'10' + ['⁰','¹','²','³','⁴','⁵','⁶'][round(log(datum.value)/LN10)]","title":"Frequency (Hz)","labelFont":"Liberation Sans, Arial, sans-serif","titleFont":"Liberation Sans, Arial, sans-serif","labelFontSize":10,"titleFontSize":11}},
"y":{"field":"M","type":"quantitative","scale":{"domain":[0,5],"range":[192,22.3],"nice":false,"zero":false},"axis":{"orient":"left","offset":-581,"values":[0,2,4],"labelExpr":"datum.value == 0 ? '0' : datum.value + '×10⁻⁵'","title":"M''","labelFont":"Liberation Sans, Arial, sans-serif","titleFont":"Liberation Sans, Arial, sans-serif","labelFontSize":10,"titleFontSize":11,"labelPadding":2,"titlePadding":2}},
"color":{"field":"T","type":"nominal","scale":{"domain":["343K","353K","363K","373K","383K"],"range":["#3a3a3a","#f5272b","#1a6ee8","#22a35b","#a87ee8"]},"legend":{"title":null,"orient":"none","legendX":723.2,"legendY":32.5,"labelFont":"Liberation Sans, Arial, sans-serif","rowPadding":1.5}},
"shape":{"field":"T","type":"nominal","scale":{"domain":["343K","353K","363K","373K","383K"],"range":["square","circle","triangle-up","triangle-down","diamond"]},"legend":{"title":null,"orient":"none","legendX":723.2,"legendY":32.5,"labelFont":"Liberation Sans, Arial, sans-serif","rowPadding":1.5}},
"order":{"field":"T","type":"ordinal"}}},
{"data":{"values":[{}]},"mark":{"type":"rect","filled":false,"stroke":"#333333","strokeWidth":1},
"encoding":{"x":{"datum":32,"type":"quantitative","scale":{"type":"log","domain":[32,1000000],"range":[581,793.7],"nice":false},"axis":{"orient":"bottom","offset":-248,"values":[40,50,60,70,80,90,200,300,400,500,600,700,800,900,2000,3000,4000,5000,6000,7000,8000,9000,20000,30000,40000,50000,60000,70000,80000,90000,200000,300000,400000,500000,600000,700000,800000,900000],"labels":false,"domain":false,"tickSize":2,"title":null}},"x2":{"datum":1000000},
"y":{"datum":0,"type":"quantitative","scale":{"domain":[0,5],"range":[192,22.3],"nice":false,"zero":false},"axis":null},"y2":{"datum":5}}},
{"data":{"values":[{}]},"mark":{"type":"text","text":"(c)","font":"Liberation Sans, Arial, sans-serif","fontSize":11,"align":"left","baseline":"middle","color":"#1a1a1a"},
"encoding":{"x":{"datum":39,"type":"quantitative","scale":{"type":"log","domain":[32,1000000],"range":[581,793.7],"nice":false},"axis":null},"y":{"datum":4.79,"type":"quantitative","scale":{"domain":[0,5],"range":[192,22.3],"nice":false,"zero":false},"axis":null}}},
{"data":{"values":[{}]},"mark":{"type":"rect","fill":"#ffffff","fillOpacity":0.25,"stroke":"#5a5a5a","strokeWidth":1},
"encoding":{"x":{"datum":2.572,"type":"quantitative","scale":{"domain":[2.572,2.861],"range":[607,712],"nice":false,"zero":false},"axis":null},"x2":{"datum":2.861},"y":{"datum":3.54,"type":"quantitative","scale":{"domain":[3.54,6.15],"range":[115.3,30.3],"nice":false,"zero":false},"axis":null},"y2":{"datum":6.15}}},
{"data":{"name":"lc"},"mark":{"type":"line","color":"#e06b6b","strokeWidth":1},
"encoding":{"x":{"field":"x","type":"quantitative","scale":{"domain":[2.572,2.861],"range":[607,712],"nice":false,"zero":false},"axis":null},"y":{"field":"y","type":"quantitative","scale":{"domain":[3.54,6.15],"range":[115.3,30.3],"nice":false,"zero":false},"axis":null}}},
{"data":{"name":"ic"},"mark":{"type":"point","filled":true,"size":12,"color":"#111111","opacity":1},
"encoding":{"x":{"field":"x","type":"quantitative","scale":{"domain":[2.572,2.861],"range":[607,712],"nice":false,"zero":false},"axis":{"orient":"bottom","offset":-324.7,"values":[2.6,2.7,2.8],"format":".1f","title":"1000/T(K)","labelFont":"Liberation Sans, Arial, sans-serif","titleFont":"Liberation Sans, Arial, sans-serif","labelFontSize":7,"titleFontSize":7,"tickSize":2,"labelPadding":1,"titlePadding":0,"domain":false}},
"y":{"field":"y","type":"quantitative","scale":{"domain":[3.54,6.15],"range":[115.3,30.3],"nice":false,"zero":false},"axis":{"orient":"left","offset":-607,"values":[4,5,6],"format":"d","title":"Lnfₘₐₓ","labelFont":"Liberation Sans, Arial, sans-serif","titleFont":"Liberation Sans, Arial, sans-serif","labelFontSize":7,"titleFontSize":7,"tickSize":2,"labelPadding":1,"titlePadding":1,"domain":false}}}},
{"data":{"values":[{}]},"mark":{"type":"text","text":"0.657 eV","font":"Liberation Sans, Arial, sans-serif","fontSize":7.5,"color":"#222222"},
"encoding":{"x":{"datum":2.778,"type":"quantitative","scale":{"domain":[2.572,2.861],"range":[607,712],"nice":false,"zero":false},"axis":null},"y":{"datum":5.54,"type":"quantitative","scale":{"domain":[3.54,6.15],"range":[115.3,30.3],"nice":false,"zero":false},"axis":null}}},

{"data":{"name":"md"},"transform":[{"fold":["343K","353K","363K","373K","383K"],"as":["T","M"]}],"mark":{"type":"point","filled":true,"size":32,"opacity":1},
"encoding":{
"x":{"field":"f","type":"quantitative","scale":{"type":"log","domain":[40,1000000],"range":[194.6,405.3],"nice":false},"axis":{"orient":"bottom","offset":-37,"values":[100,1000,10000,100000,1000000],"labelExpr":"'10' + ['⁰','¹','²','³','⁴','⁵','⁶'][round(log(datum.value)/LN10)]","title":"Frequency (Hz)"}},
"y":{"field":"M","type":"quantitative","scale":{"domain":[0,2],"range":[403,232],"nice":false,"zero":false},"axis":{"orient":"left","offset":-194.6,"values":[0,1,2],"labelExpr":"datum.value == 0 ? '0' : datum.value + '×10⁻⁴'","title":"M''","titleFontSize":12,"labelPadding":2,"titlePadding":2}},
"color":{"field":"T","type":"nominal","scale":{"domain":["343K","353K","363K","373K","383K"],"range":["#3a3a3a","#f5272b","#1a6ee8","#22a35b","#a87ee8"]},"legend":{"title":null,"orient":"none","legendX":321.5,"legendY":237.5}},
"shape":{"field":"T","type":"nominal","scale":{"domain":["343K","353K","363K","373K","383K"],"range":["square","circle","triangle-up","triangle-down","diamond"]},"legend":{"title":null,"orient":"none","legendX":321.5,"legendY":237.5}},
"order":{"field":"T","type":"ordinal"}}},
{"data":{"values":[{}]},"mark":{"type":"rect","filled":false,"stroke":"#333333","strokeWidth":1},
"encoding":{"x":{"datum":40,"type":"quantitative","scale":{"type":"log","domain":[40,1000000],"range":[194.6,405.3],"nice":false},"axis":{"orient":"bottom","offset":-37,"values":[50,60,70,80,90,200,300,400,500,600,700,800,900,2000,3000,4000,5000,6000,7000,8000,9000,20000,30000,40000,50000,60000,70000,80000,90000,200000,300000,400000,500000,600000,700000,800000,900000],"labels":false,"domain":false,"tickSize":2,"title":null}},"x2":{"datum":1000000},
"y":{"datum":0,"type":"quantitative","scale":{"domain":[0,2],"range":[403,232],"nice":false,"zero":false},"axis":null},"y2":{"datum":2}}},
{"data":{"values":[{}]},"mark":{"type":"text","text":"(d)","font":"Liberation Serif, DejaVu Serif, serif","fontSize":11,"align":"left","baseline":"middle","color":"#1a1a1a"},
"encoding":{"x":{"datum":47,"type":"quantitative","scale":{"type":"log","domain":[40,1000000],"range":[194.6,405.3],"nice":false},"axis":null},"y":{"datum":1.895,"type":"quantitative","scale":{"domain":[0,2],"range":[403,232],"nice":false,"zero":false},"axis":null}}},
{"data":{"values":[{}]},"mark":{"type":"rect","fill":"#ffffff","fillOpacity":0.25,"stroke":"#5a5a5a","strokeWidth":1},
"encoding":{"x":{"datum":2.573,"type":"quantitative","scale":{"domain":[2.573,2.852],"range":[221,317.7],"nice":false,"zero":false},"axis":null},"x2":{"datum":2.852},"y":{"datum":4.22,"type":"quantitative","scale":{"domain":[4.22,6.76],"range":[317,241],"nice":false,"zero":false},"axis":null},"y2":{"datum":6.76}}},
{"data":{"name":"ld"},"mark":{"type":"line","color":"#e07373","strokeWidth":1},
"encoding":{"x":{"field":"x","type":"quantitative","scale":{"domain":[2.573,2.852],"range":[221,317.7],"nice":false,"zero":false},"axis":null},"y":{"field":"y","type":"quantitative","scale":{"domain":[4.22,6.76],"range":[317,241],"nice":false,"zero":false},"axis":null}}},
{"data":{"name":"id"},"mark":{"type":"point","filled":true,"size":12,"color":"#111111","opacity":1},
"encoding":{"x":{"field":"x","type":"quantitative","scale":{"domain":[2.573,2.852],"range":[221,317.7],"nice":false,"zero":false},"axis":{"orient":"bottom","offset":-123,"values":[2.6,2.7,2.8],"format":".1f","title":"1000/T(K)","labelFont":"Liberation Sans, Arial, sans-serif","titleFont":"Liberation Sans, Arial, sans-serif","labelFontSize":7,"titleFontSize":7,"tickSize":2,"labelPadding":1,"titlePadding":0,"domain":false}},
"y":{"field":"y","type":"quantitative","scale":{"domain":[4.22,6.76],"range":[317,241],"nice":false,"zero":false},"axis":{"orient":"left","offset":-221,"values":[5,6],"format":"d","title":"Lnfₘₐₓ","labelFont":"Liberation Sans, Arial, sans-serif","titleFont":"Liberation Sans, Arial, sans-serif","labelFontSize":7,"titleFontSize":7,"tickSize":2,"labelPadding":1,"titlePadding":1,"domain":false}}}},
{"data":{"values":[{}]},"mark":{"type":"text","text":"0.751 eV","font":"Liberation Sans, Arial, sans-serif","fontSize":7.5,"color":"#222222"},
"encoding":{"x":{"datum":2.759,"type":"quantitative","scale":{"domain":[2.573,2.852],"range":[221,317.7],"nice":false,"zero":false},"axis":null},"y":{"datum":6.17,"type":"quantitative","scale":{"domain":[4.22,6.76],"range":[317,241],"nice":false,"zero":false},"axis":null}}},

{"data":{"name":"me"},"transform":[{"fold":["343K","353K","363K","373K","383K"],"as":["T","M"]}],"mark":{"type":"point","filled":true,"size":32,"opacity":1},
"encoding":{
"x":{"field":"f","type":"quantitative","scale":{"type":"log","domain":[40,1000000],"range":[462.8,675.3],"nice":false},"axis":{"orient":"bottom","offset":-35,"values":[100,1000,10000,100000,1000000],"labelExpr":"'10' + ['⁰','¹','²','³','⁴','⁵','⁶'][round(log(datum.value)/LN10)]","title":"Frequency (Hz)"}},
"y":{"field":"M","type":"quantitative","scale":{"domain":[0,2],"range":[405,233.7],"nice":false,"zero":false},"axis":{"orient":"left","offset":-462.8,"values":[0,1,2],"labelExpr":"datum.value == 0 ? '0' : datum.value + '×10⁻⁴'","title":"M''","titleFontSize":12,"labelPadding":2,"titlePadding":2}},
"color":{"field":"T","type":"nominal","scale":{"domain":["343K","353K","363K","373K","383K"],"range":["#3a3a3a","#f5272b","#1a6ee8","#22a35b","#a87ee8"]},"legend":{"title":null,"orient":"none","legendX":628.5,"legendY":334.5}},
"shape":{"field":"T","type":"nominal","scale":{"domain":["343K","353K","363K","373K","383K"],"range":["square","circle","triangle-up","triangle-down","diamond"]},"legend":{"title":null,"orient":"none","legendX":628.5,"legendY":334.5}},
"order":{"field":"T","type":"ordinal"}}},
{"data":{"values":[{}]},"mark":{"type":"rect","filled":false,"stroke":"#333333","strokeWidth":1},
"encoding":{"x":{"datum":40,"type":"quantitative","scale":{"type":"log","domain":[40,1000000],"range":[462.8,675.3],"nice":false},"axis":{"orient":"bottom","offset":-35,"values":[50,60,70,80,90,200,300,400,500,600,700,800,900,2000,3000,4000,5000,6000,7000,8000,9000,20000,30000,40000,50000,60000,70000,80000,90000,200000,300000,400000,500000,600000,700000,800000,900000],"labels":false,"domain":false,"tickSize":2,"title":null}},"x2":{"datum":1000000},
"y":{"datum":0,"type":"quantitative","scale":{"domain":[0,2],"range":[405,233.7],"nice":false,"zero":false},"axis":null},"y2":{"datum":2}}},
{"data":{"values":[{}]},"mark":{"type":"text","text":"(e)","font":"Liberation Serif, DejaVu Serif, serif","fontSize":11,"align":"left","baseline":"middle","color":"#1a1a1a"},
"encoding":{"x":{"datum":42,"type":"quantitative","scale":{"type":"log","domain":[40,1000000],"range":[462.8,675.3],"nice":false},"axis":null},"y":{"datum":1.906,"type":"quantitative","scale":{"domain":[0,2],"range":[405,233.7],"nice":false,"zero":false},"axis":null}}},
{"data":{"values":[{}]},"mark":{"type":"rect","fill":"#ffffff","fillOpacity":0.25,"stroke":"#5a5a5a","strokeWidth":1},
"encoding":{"x":{"datum":2.568,"type":"quantitative","scale":{"domain":[2.568,2.952],"range":[487.7,578.7],"nice":false,"zero":false},"axis":null},"x2":{"datum":2.952},"y":{"datum":3.715,"type":"quantitative","scale":{"domain":[3.715,7.215],"range":[313.7,243.7],"nice":false,"zero":false},"axis":null},"y2":{"datum":7.215}}},
{"data":{"name":"le"},"mark":{"type":"line","color":"#e07373","strokeWidth":1},
"encoding":{"x":{"field":"x","type":"quantitative","scale":{"domain":[2.568,2.952],"range":[487.7,578.7],"nice":false,"zero":false},"axis":null},"y":{"field":"y","type":"quantitative","scale":{"domain":[3.715,7.215],"range":[313.7,243.7],"nice":false,"zero":false},"axis":null}}},
{"data":{"name":"ie"},"mark":{"type":"point","filled":true,"size":12,"color":"#111111","opacity":1},
"encoding":{"x":{"field":"x","type":"quantitative","scale":{"domain":[2.568,2.952],"range":[487.7,578.7],"nice":false,"zero":false},"axis":{"orient":"bottom","offset":-126.3,"values":[2.6,2.7,2.8,2.9],"format":".1f","title":"1000/T(K)","labelFont":"Liberation Sans, Arial, sans-serif","titleFont":"Liberation Sans, Arial, sans-serif","labelFontSize":7,"titleFontSize":7,"tickSize":2,"labelPadding":1,"titlePadding":0,"domain":false}},
"y":{"field":"y","type":"quantitative","scale":{"domain":[3.715,7.215],"range":[313.7,243.7],"nice":false,"zero":false},"axis":{"orient":"left","offset":-487.7,"values":[4,5,6,7],"format":"d","title":"Lnfₘₐₓ","labelFont":"Liberation Sans, Arial, sans-serif","titleFont":"Liberation Sans, Arial, sans-serif","labelFontSize":7,"titleFontSize":7,"tickSize":2,"labelPadding":1,"titlePadding":1,"domain":false}}}},
{"data":{"values":[{}]},"mark":{"type":"text","text":"0.779 eV","font":"Liberation Sans, Arial, sans-serif","fontSize":7.5,"color":"#222222"},
"encoding":{"x":{"datum":2.793,"type":"quantitative","scale":{"domain":[2.568,2.952],"range":[487.7,578.7],"nice":false,"zero":false},"axis":null},"y":{"datum":6.64,"type":"quantitative","scale":{"domain":[3.715,7.215],"range":[313.7,243.7],"nice":false,"zero":false},"axis":null}}}
],
"resolve":{"scale":{"x":"independent","y":"independent","color":"independent","shape":"independent"},"axis":{"x":"independent","y":"independent"},"legend":{"color":"independent","shape":"independent"}}
}
